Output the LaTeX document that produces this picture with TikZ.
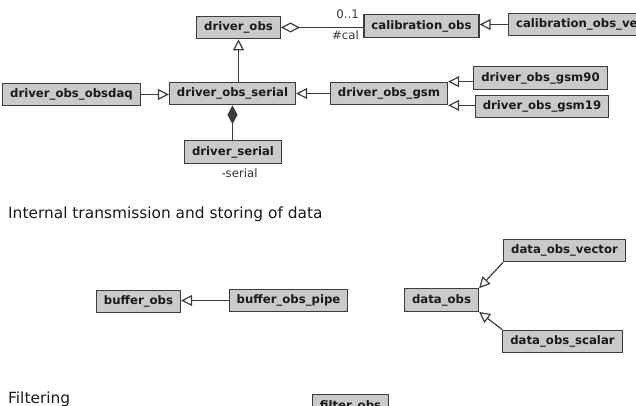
\documentclass[tikz,border=0pt]{standalone}
\usepackage{fontspec}
\setmainfont{DejaVu Sans}
\usetikzlibrary{arrows.meta,positioning}
\definecolor{Ink}{HTML}{1A1A1A}
\definecolor{Muted}{HTML}{333333}
\definecolor{Edge}{HTML}{3C3C3C}
\definecolor{BoxGray}{HTML}{CACACA}
\tikzset{
  cls/.style={draw=Edge,line width=1.2pt,fill=BoxGray,text=Ink,minimum height=22.5pt,inner xsep=7.5pt,inner ysep=2pt,font=\fontsize{11.7}{14}\selectfont\bfseries},
  role/.style={text=Muted,inner sep=1pt,font=\fontsize{11.7}{14}\selectfont},
  heading/.style={text=Ink,inner sep=0pt,anchor=base west,font=\fontsize{15.4}{18}\selectfont},
  inherit/.style={{Triangle[open,length=11pt,width=11pt]}-,line width=1.2pt,draw=Edge},
  aggreg/.style={{Diamond[open,length=19pt,width=10pt]}-,line width=1.2pt,draw=Edge},
  compos/.style={{Diamond[length=19pt,width=10pt]}-,line width=1.2pt,draw=Edge,fill=Edge}
}
\begin{document}
\begin{tikzpicture}[x=1pt,y=-1pt]
\useasboundingbox (0,0) rectangle (636,406);
\clip (0,0) rectangle (636,406);
% drivers
\node[cls] (driverobs) at (238.5,27.5) {driver\_obs};
\node[cls] (calobs) at (421.5,26) {calibration\_obs};
\node[cls,anchor=west] (calvec) at (508,24.5) {calibration\_obs\_vector};
\node[cls] (obsdaq) at (71.5,94.5) {driver\_obs\_obsdaq};
\node[cls] (serial) at (232.5,93.5) {driver\_obs\_serial};
\node[cls] (drvserial) at (233,152) {driver\_serial};
\node[role,below=4pt of drvserial,xshift=6.5pt] (serialrole) {-serial};
\node[cls] (gsm) at (389,93.5) {driver\_obs\_gsm};
\node[cls] (gsm90) at (540.5,78) {driver\_obs\_gsm90};
\node[cls] (gsm19) at (542,106.5) {driver\_obs\_gsm19};
\node[role,anchor=base east] (calmult) at (360,19) {0..1};
\node[role,anchor=base east] (calrole) at (360,40) {\#cal};
\draw[aggreg] (driverobs.east) -- (calobs.west |- driverobs.east);
\draw[inherit] (calobs.east |- calvec.west) -- (calvec.west);
\draw[inherit] (driverobs.south) -- (driverobs.south |- serial.north);
\draw[inherit] (serial.west |- obsdaq.east) -- (obsdaq.east);
\draw[inherit] (serial.east) -- (serial.east -| gsm.west);
\draw[inherit] (gsm.north east) -- (gsm.north east -| gsm90.west);
\draw[inherit] (gsm.south east) -- (gsm.south east -| gsm19.west);
\draw[compos] (serial.south) -- (serial.south |- drvserial.north);
% data
\node[heading] (internal) at (8,218) {Internal transmission and storing of data};
\node[cls] (buffer) at (138.5,301.5) {buffer\_obs};
\node[cls] (pipe) at (288.5,300.5) {buffer\_obs\_pipe};
\node[cls] (data) at (441.5,300) {data\_obs};
\node[cls] (vector) at (564.5,250.5) {data\_obs\_vector};
\node[cls] (scalar) at (562.5,341.5) {data\_obs\_scalar};
\draw[inherit] (buffer.east |- pipe.west) -- (pipe.west);
\draw[inherit] (data.north east) -- (vector.south west);
\draw[inherit] (data.south east) -- (scalar.north west);
% filters
\node[heading] (filtering) at (8,403) {Filtering};
\node[cls] (filter) at (350.5,406) {filter\_obs};
\end{tikzpicture}
\end{document}
